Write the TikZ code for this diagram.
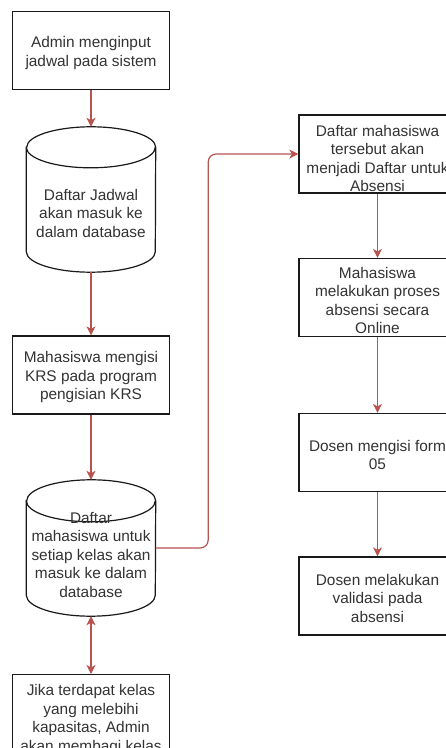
\documentclass[tikz,border=0pt]{standalone}
\usepackage{fontspec}
\setmainfont{Liberation Sans}
\usetikzlibrary{arrows.meta,calc}
\definecolor{flowred}{HTML}{B85450}
\definecolor{inktext}{HTML}{333333}

% outline of a database cylinder drawn around an (invisible) node
\newcommand{\drawdb}[3]{% node name, x radius, y radius
  \draw[dbline] ($(#1.north west)+(0,-#3)$) -- ($(#1.south west)+(0,#3)$)
    arc[start angle=180,end angle=360,x radius=#2,y radius=#3]
    -- ($(#1.north east)+(0,-#3)$)
    arc[start angle=0,end angle=180,x radius=#2,y radius=#3] -- cycle;
  \draw[dbline] ($(#1.north west)+(0,-#3)$)
    arc[start angle=180,end angle=360,x radius=#2,y radius=#3];}

\begin{document}
\begin{tikzpicture}[x=1pt,y=1pt,
  txt/.style={font=\fontsize{15.4}{18.5}\selectfont, text=inktext, align=center, inner sep=0pt},
  stepbox/.style={draw=black!90, line width=1.2pt, minimum width=157, minimum height=78, inner sep=0pt, txt},
  dbnode/.style={minimum width=129, inner sep=0pt},
  dbline/.style={draw=black!90, line width=1.2pt},
  flow/.style={draw=flowred, line width=1.2pt, -{Stealth[length=9pt,width=9pt,inset=2.5pt]}},
  bothflow/.style={draw=flowred, line width=1.2pt, {Stealth[length=9pt,width=9pt,inset=2.5pt]}-{Stealth[length=9pt,width=9pt,inset=2.5pt]}}]

\useasboundingbox (0,0) rectangle (446,748);
\clip (0,0) rectangle (446,748);
\fill[white] (0,0) rectangle (446,748);

% left column
\node[stepbox] (b1) at (91,697.5) {\rule{0pt}{16pt}Admin menginput\\jadwal pada sistem};

\node[dbnode, minimum height=145] (c1) at (91,548.5) {};
\drawdb{c1}{64.5}{20.5}
\node[txt] (c1t) at (91,535) {Daftar Jadwal\\akan masuk ke\\dalam database};

\node[stepbox] (b3) at (91,373) {\rule{0pt}{16pt}Mahasiswa mengisi\\KRS pada program\\pengisian KRS};

\node[dbnode, minimum height=136] (c2) at (91,200) {};
\drawdb{c2}{64.5}{21}
\node[txt] (c2t) at (91,193) {Daftar\\mahasiswa untuk\\setiap kelas akan\\masuk ke dalam\\database};

\node[stepbox, minimum height=110, anchor=north] (b4) at (91,74) {};
\node[txt, anchor=north] (b4t) at ($(b4.north)+(0,-10.5)$) {Jika terdapat kelas\\yang melebihi\\kapasitas, Admin\\akan membagi kelas};

% right column
\node[stepbox] (b5) at (377.5,594) {\rule{0pt}{20pt}Daftar mahasiswa\\tersebut akan\\menjadi Daftar untuk\\Absensi};
\node[stepbox] (b6) at (377.5,450.5) {\rule{0pt}{17pt}Mahasiswa\\melakukan proses\\absensi secara\\Online};
\node[stepbox] (b7) at (377.5,295.5) {\rule{0pt}{16pt}Dosen mengisi form\\05};
\node[stepbox] (b8) at (377.5,152) {\rule{0pt}{16pt}Dosen melakukan\\validasi pada\\absensi};

% connectors
\draw[flow] (b1) -- (c1);
\draw[flow] (c1) -- (b3);
\draw[flow] (b3) -- (c2);
\draw[bothflow] (c2) -- (b4);
\draw[flow, rounded corners=8pt] (c2.east) -- ++(52.5,0) |- (b5.west);
\draw[flow] (b5) -- (b6);
\draw[flow] (b6) -- (b7);
\draw[flow] (b7) -- (b8);
\end{tikzpicture}
\end{document}
